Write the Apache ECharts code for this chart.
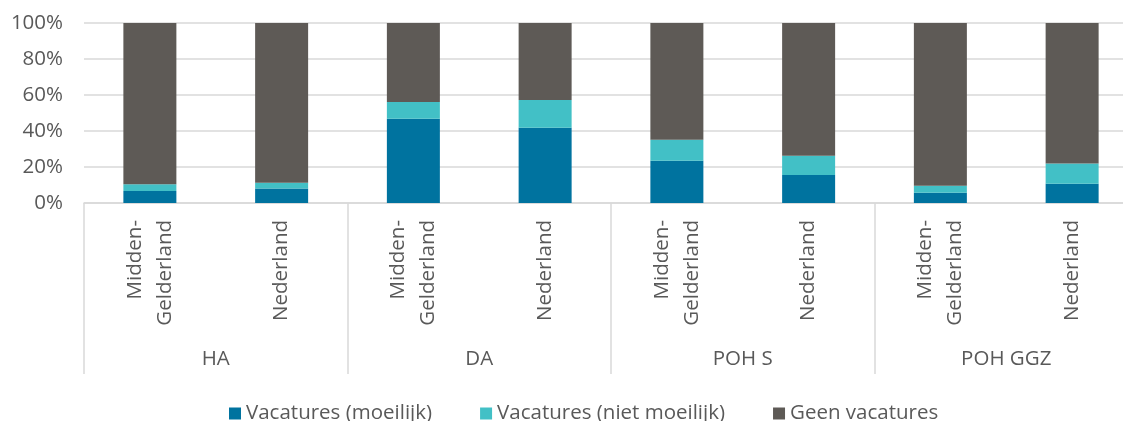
<!DOCTYPE html>
<html>
<head>
<meta charset="utf-8">
<script src="https://cdn.jsdelivr.net/npm/echarts@6/dist/echarts.min.js"></script>
<style>
  html, body { margin: 0; padding: 0; background: #fff; }
  #chart { width: 1123px; height: 421px; }
</style>
</head>
<body>
<div id="chart"></div>
<script>
// data (percentages)
const groups = ['HA', 'DA', 'POH S', 'POH GGZ']
const regions = ['Midden-\nGelderland', 'Nederland']
const moeilijk = [6.7, 8.0, 46.8, 41.8, 23.5, 15.6, 5.7, 10.7]
const nietMoeilijk = [3.7, 3.3, 9.3, 15.4, 11.7, 10.7, 3.9, 11.3]
const geen = [89.6, 88.7, 43.9, 42.8, 64.8, 73.7, 90.4, 78.0]
const yTicks = [0, 20, 40, 60, 80, 100]

const categories = []
groups.forEach(() => regions.forEach(r => categories.push(r)))

const font = '"Open Sans", sans-serif'
const textColor = '#595959'
const lineColor = '#d9d9d9'
const fontSize = 20.5

const chart = echarts.init(document.getElementById('chart'))

function barSeries(name, data, color) {
  return {
    name,
    type: 'bar',
    stack: 'total',
    barWidth: 53,
    itemStyle: { color },
    data,
  }
}

const option = {
  animation: false,
  textStyle: { fontFamily: font },
  grid: {
    left: 84,
    right: -15,
    top: 23,
    bottom: 218,
    containLabel: false,
    outerBoundsMode: 'none',
  },
  legend: {
    left: 224,
    top: 398,
    icon: 'rect',
    itemWidth: 12,
    itemHeight: 12,
    itemGap: 48,
    textStyle: { fontSize: fontSize, color: textColor, fontFamily: font },
    data: ['Vacatures (moeilijk)', 'Vacatures (niet moeilijk)', 'Geen vacatures'],
  },
  xAxis: [
    {
      type: 'category',
      data: categories,
      position: 'bottom',
      axisLine: { show: true, lineStyle: { color: lineColor, width: 1.5 } },
      axisTick: { show: false },
      axisLabel: {
        interval: 0,
        rotate: 90,
        margin: 17,
        fontSize: fontSize,
        lineHeight: 30,
        color: textColor,
        fontFamily: font,
      },
    },
    {
      type: 'category',
      data: groups,
      position: 'bottom',
      offset: 0,
      axisLine: { show: false },
      axisTick: {
        show: true,
        interval: 0,
        length: 171,
        lineStyle: { color: lineColor, width: 1.5 },
      },
      axisLabel: {
        interval: 0,
        margin: 146,
        fontSize: fontSize,
        color: textColor,
        fontFamily: font,
      },
    },
  ],
  yAxis: {
    type: 'value',
    min: yTicks[0],
    max: yTicks[yTicks.length - 1],
    interval: 20,
    axisLine: { show: false },
    axisTick: { show: false },
    splitLine: { lineStyle: { color: lineColor, width: 1.5 } },
    axisLabel: {
      formatter: '{value}%',
      margin: 21,
      fontSize: fontSize,
      color: textColor,
      fontFamily: font,
    },
  },
  series: [
    barSeries('Vacatures (moeilijk)', moeilijk, '#00739f'),
    barSeries('Vacatures (niet moeilijk)', nietMoeilijk, '#42c0c6'),
    barSeries('Geen vacatures', geen, '#5e5a56'),
  ],
}

chart.setOption(option)
</script>
</body>
</html>
